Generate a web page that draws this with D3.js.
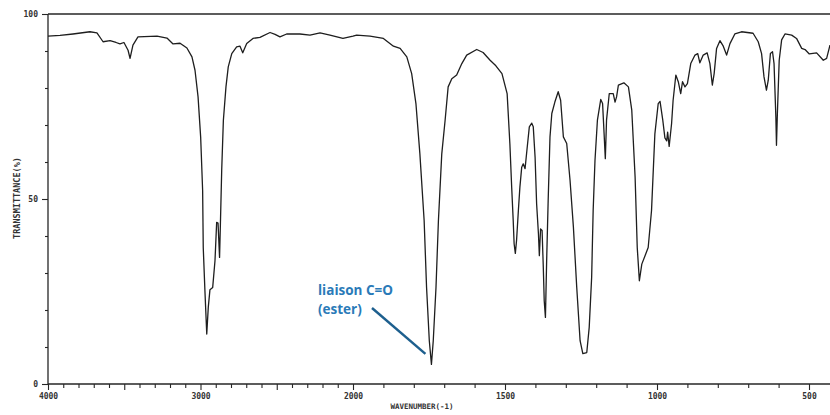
<!DOCTYPE html>
<html>
<head>
<meta charset="utf-8">
<script src="https://cdn.jsdelivr.net/npm/d3@7/dist/d3.min.js"></script>
<style>
  html, body { margin: 0; padding: 0; background: #fff; }
  svg { display: block; }
</style>
</head>
<body>
<svg id="chart" width="830" height="415"></svg>
<script>
// ---- data ----
const wavenumbers = [4000,3921,3836,3725,3679,3639,3593,3554,3528,3502,3475,3462,3443,3410,3285,3220,3180,3134,3089,3056,3036,3016,2999,2986,2982,2971,2959,2949,2938,2920,2905,2894,2885,2875,2870,2861,2850,2833,2818,2795,2763,2741,2723,2697,2656,2610,2544,2511,2479,2435,2348,2282,2216,2151,2066,2000,
1988,1944,1900,1867,1845,1823,1807,1793,1780,1766,1758,1749,1742,1736,1727,1719,1708,1697,1687,1675,1659,1642,1626,1593,1572,1549,1530,1510,1493,1484,1478,1473,1470,1466,1462,1456,1451,1445,1440,1434,1428,1420,1412,1407,1401,1396,1390,1387,1383,1378,1374,1371,1367,1363,1358,1352,1346,1336,1325,1317,1308,1297,1286,1275,1264,1253,1244,1231,1223,1215,1210,1204,1196,1185,1179,1174,1170,1166,1157,1144,1138,1133,1127,1109,1094,1083,1072,1065,1058,1050,1039,1029,1018,1007,996,990,981,974,968,965,960,952,947,938,930,922,916,908,900,889,875,866,859,848,835,826,818,812,804,793,782,771,760,744,722,684,667,656,648,640,634,627,620,615,609,607,604,598,590,579,557,541,524,513,499,475,453,442,431];
const transmittance = [94.0,94.2,94.6,95.2,94.9,92.5,92.8,92.3,91.9,92.3,90.2,88.0,91.6,93.8,94.0,93.5,91.9,92.1,90.8,88.4,84.8,77.6,66.8,52.3,36.9,25.2,13.5,20.7,25.5,26.1,33.3,43.7,43.5,34.2,42.4,57.7,71.3,80.3,85.7,89.3,91.1,91.3,89.5,92.0,93.4,93.7,95.0,94.5,93.8,94.6,94.6,94.3,94.9,94.3,93.4,94.0,
94.3,94.0,93.4,91.3,90.7,88.4,83.9,75.8,62.2,44.2,26.1,11.7,5.3,11.7,26.1,44.2,62.2,71.3,80.3,82.5,83.5,86.6,88.9,90.4,89.6,87.5,86.0,83.9,78.5,65.0,53.2,44.2,37.9,35.3,38.8,46.9,53.2,58.6,59.5,58.2,63.1,69.5,70.5,69.5,61.3,48.7,40.6,34.7,41.9,41.5,31.5,22.5,18.0,33.3,49.6,66.8,73.1,76.2,79.0,76.7,66.8,65.0,55.0,42.4,26.1,11.7,8.2,8.5,15.3,28.8,46.9,60.4,71.3,76.9,75.8,67.6,60.9,71.3,78.5,78.5,76.2,77.6,80.8,81.4,80.3,74.0,55.9,36.9,27.9,32.4,34.7,36.9,46.9,67.6,75.8,76.4,71.3,66.5,65.7,68.1,64.2,70.4,76.7,83.5,81.7,78.5,81.7,80.3,81.2,86.6,88.9,89.3,86.8,88.9,89.5,86.6,80.8,83.9,90.7,92.8,91.3,88.9,92.0,94.6,95.2,94.8,92.5,89.3,83.0,79.4,82.1,89.3,89.8,86.6,72.2,64.5,73.1,87.5,93.0,94.6,94.3,93.4,90.7,90.4,89.2,89.5,87.5,88.0,91.6];

const xBreaks = [4000, 2000, 500];
const xLabelTicks = [4000, 3000, 2000, 1500, 1000, 500];
const xMidTicks = [3500, 2500];
const yLabelTicks = [0, 50, 100];
const xTitle = "WAVENUMBER(-1)";
const yTitle = "TRANSMITTANCE(%)";
const annotationLines = ["liaison C=O", "(ester)"];
const annotationTarget = {wn: 1742, t: 6.5};

// ---- layout ----
const svg = d3.select("#chart");
const plotLeft = 48, plotTop = 14, plotBottom = 384, plotRight = 830;

const x = d3.scaleLinear().domain(xBreaks).range([48, 353, 809]);
const y = d3.scaleLinear().domain([0, 100]).range([plotBottom, plotTop]);

const ink = "#262626";
const tickFont = "'DejaVu Sans Mono', monospace";

// frame lines
svg.append("line").attr("x1", plotLeft).attr("x2", plotRight).attr("y1", plotTop).attr("y2", plotTop)
  .attr("stroke", ink).attr("stroke-width", 1.3);
svg.append("line").attr("x1", plotLeft).attr("x2", plotLeft).attr("y1", plotTop).attr("y2", plotBottom)
  .attr("stroke", ink).attr("stroke-width", 1.3);
svg.append("line").attr("x1", plotLeft).attr("x2", plotRight).attr("y1", plotBottom).attr("y2", plotBottom)
  .attr("stroke", ink).attr("stroke-width", 1.3);

// x minor ticks
const minorX = d3.range(3900, 400, -100).filter(v => !xLabelTicks.includes(v) && !xMidTicks.includes(v) && x(v) <= plotRight);
const gxMinor = svg.append("g").attr("transform", `translate(0,${plotBottom})`)
  .call(d3.axisBottom(x).tickValues(minorX).tickSize(4).tickFormat(""));
gxMinor.select(".domain").remove();
gxMinor.selectAll(".tick line").attr("stroke", ink).attr("stroke-width", 1.1);

const gxMid = svg.append("g").attr("transform", `translate(0,${plotBottom})`)
  .call(d3.axisBottom(x).tickValues(xMidTicks).tickSize(6).tickFormat(""));
gxMid.select(".domain").remove();
gxMid.selectAll(".tick line").attr("stroke", ink).attr("stroke-width", 1.1);

const gx = svg.append("g").attr("transform", `translate(0,${plotBottom})`)
  .call(d3.axisBottom(x).tickValues(xLabelTicks).tickSize(6).tickPadding(3).tickFormat(d3.format("d")));
gx.select(".domain").remove();
gx.selectAll(".tick line").attr("stroke", ink).attr("stroke-width", 1.1);
gx.selectAll(".tick text").attr("font-family", tickFont).attr("font-size", 8).attr("font-weight", "bold").attr("fill", "#333");

// y ticks
const minorY = d3.range(10, 100, 10).filter(v => !yLabelTicks.includes(v));
const gyMinor = svg.append("g").attr("transform", `translate(${plotLeft},0)`)
  .call(d3.axisLeft(y).tickValues(minorY).tickSize(3).tickFormat(""));
gyMinor.select(".domain").remove();
gyMinor.selectAll(".tick line").attr("stroke", ink).attr("stroke-width", 1.1);

const gy = svg.append("g").attr("transform", `translate(${plotLeft},0)`)
  .call(d3.axisLeft(y).tickValues(yLabelTicks).tickSize(6).tickPadding(4).tickFormat(d3.format("d")));
gy.select(".domain").remove();
gy.selectAll(".tick line").attr("stroke", ink).attr("stroke-width", 1.1);
gy.selectAll(".tick text").attr("font-family", tickFont).attr("font-size", 8).attr("font-weight", "bold").attr("fill", "#333");

// titles
svg.append("text").attr("x", 422).attr("y", 409).attr("text-anchor", "middle")
  .attr("font-family", tickFont).attr("font-size", 7.5).attr("font-weight", "bold").attr("fill", "#333")
  .text(xTitle);
svg.append("text").attr("transform", "translate(20,198) rotate(-90)").attr("text-anchor", "middle")
  .attr("font-family", tickFont).attr("font-size", 8.5).attr("font-weight", "bold").attr("fill", "#333")
  .text(yTitle);

// spectrum
const pts = wavenumbers.map((w, i) => [w, transmittance[i]]);
svg.append("path").datum(pts)
  .attr("fill", "none").attr("stroke", "#1e1e1e").attr("stroke-width", 1.3)
  .attr("stroke-linejoin", "round")
  .attr("d", d3.line().x(d => x(d[0])).y(d => y(d[1])));

// annotation
const blue = "#2a7ab8";
svg.append("text").attr("x", 318).attr("y", 295)
  .attr("font-family", "'Open Sans', sans-serif").attr("font-size", 13.5).attr("font-weight", "bold")
  .attr("fill", blue).text(annotationLines[0]);
svg.append("text").attr("x", 318).attr("y", 314)
  .attr("font-family", "'Open Sans', sans-serif").attr("font-size", 13.5).attr("font-weight", "bold")
  .attr("fill", blue).text(annotationLines[1]);
svg.append("line")
  .attr("x1", 372).attr("y1", 308)
  .attr("x2", x(annotationTarget.wn) - 6).attr("y2", y(annotationTarget.t) - 6)
  .attr("stroke", "#1d5f8e").attr("stroke-width", 2.4);
</script>
</body>
</html>
